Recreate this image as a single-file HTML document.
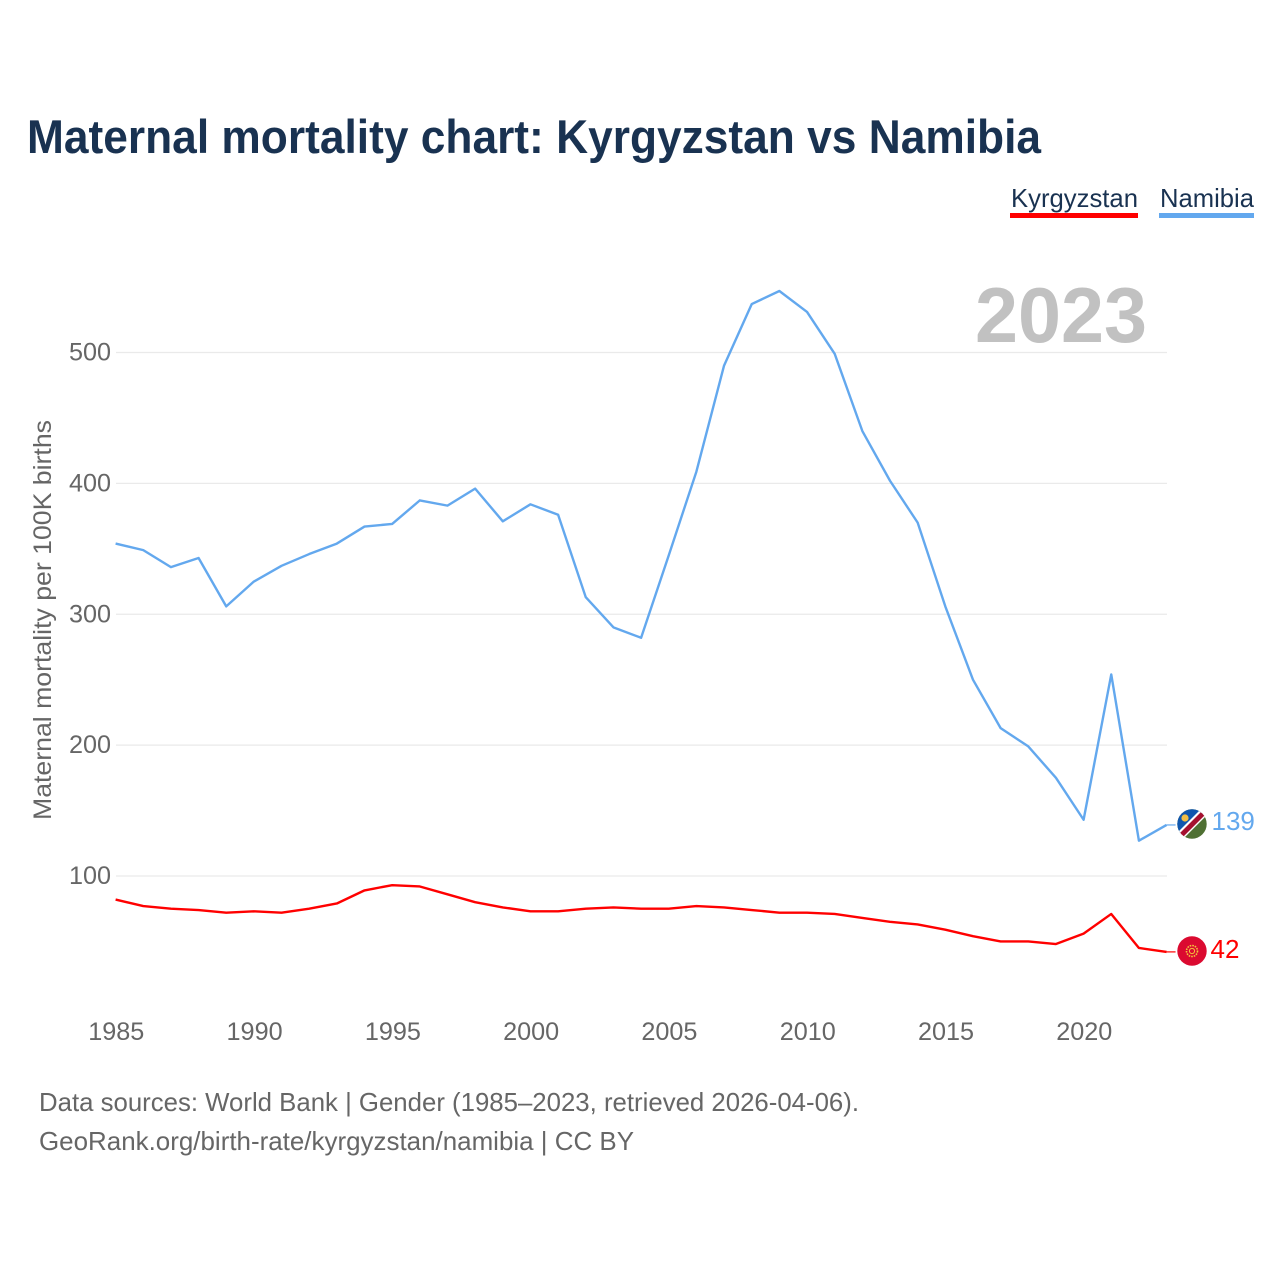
<!DOCTYPE html>
<html lang="en">
<head>
<meta charset="utf-8">
<title>Maternal mortality chart: Kyrgyzstan vs Namibia</title>
<style>
html,body{margin:0;padding:0;background:#fff;width:1280px;height:1280px;overflow:hidden}
svg{display:block}
text{font-family:"Liberation Sans",sans-serif}
</style>
</head>
<body>
<svg id="chart" xmlns="http://www.w3.org/2000/svg" width="1280" height="1280" viewBox="0 0 1280 1280">
  <text x="27" y="153" font-size="47.5" font-weight="700" fill="#193251" textLength="1014" lengthAdjust="spacingAndGlyphs">Maternal mortality chart: Kyrgyzstan vs Namibia</text>

  <g>
    <text x="1011" y="207" font-size="26" fill="#193251" textLength="127" lengthAdjust="spacingAndGlyphs">Kyrgyzstan</text>
    <rect x="1010" y="213" width="128" height="5" fill="#ff0000"/>
  </g>
  <g>
    <text x="1160" y="207" font-size="26" fill="#193251" textLength="94" lengthAdjust="spacingAndGlyphs">Namibia</text>
    <rect x="1159" y="213" width="95" height="5" fill="#63a8ee"/>
  </g>

  <g id="grid"></g>
  <g id="yticks"></g>
  <g id="xticks"></g>

  <text transform="translate(51,620) rotate(-90)" text-anchor="middle" font-size="25" fill="#666666" textLength="400" lengthAdjust="spacingAndGlyphs">Maternal mortality per 100K births</text>

  <text id="year-watermark" x="975" y="342" font-size="78" font-weight="700" fill="#c1c1c1" textLength="172" lengthAdjust="spacingAndGlyphs">2023</text>

  <g id="series"></g>

  <defs>
    <clipPath id="clip-nam"><circle cx="1192" cy="824" r="14.7"/></clipPath>
  </defs>

  <g clip-path="url(#clip-nam)">
    <rect x="1177" y="809" width="30" height="30" fill="#4f7033"/>
    <polygon points="1177,809 1207,809 1177,839" fill="#0f56ae"/>
    <polygon points="1177,833 1201,809 1207,809 1207,815 1183,839 1177,839" fill="#ffffff"/>
    <polygon points="1178,835 1203,810 1206,814 1181,839" fill="#a5102e"/>
    <circle cx="1185" cy="818" r="3.6" fill="#f0bd45"/>
  </g>
  <g>
    <circle cx="1192" cy="951" r="14.7" fill="#db0a30"/>
    <circle cx="1192" cy="951" r="5.5" fill="none" stroke="#f4c23c" stroke-width="1.6" stroke-dasharray="1.6 1"/>
    <circle cx="1192" cy="951" r="2.6" fill="none" stroke="#f4c23c" stroke-width="1"/>
  </g>

  <g id="end-labels"></g>

  <text x="39" y="1111" font-size="26" fill="#666666" textLength="820" lengthAdjust="spacingAndGlyphs">Data sources: World Bank | Gender (1985–2023, retrieved 2026-04-06).</text>
  <text x="39" y="1150" font-size="26" fill="#666666" textLength="595" lengthAdjust="spacingAndGlyphs">GeoRank.org/birth-rate/kyrgyzstan/namibia | CC BY</text>
</svg>
<script>
const years = [1985,1986,1987,1988,1989,1990,1991,1992,1993,1994,1995,1996,1997,1998,1999,2000,2001,2002,2003,2004,2005,2006,2007,2008,2009,2010,2011,2012,2013,2014,2015,2016,2017,2018,2019,2020,2021,2022,2023];
const namibia = [354,349,336,343,306,325,337,346,354,367,369,387,383,396,371,384,376,313,290,282,345,409,490,537,547,531,499,440,402,370,306,250,213,199,175,143,254,127,139];
const kyrgyzstan = [82,77,75,74,72,73,72,75,79,89,93,92,86,80,76,73,73,75,76,75,75,77,76,74,72,72,71,68,65,63,59,54,50,50,48,56,71,45,42];
const yTickValues = [100,200,300,400,500];
const xTickValues = [1985,1990,1995,2000,2005,2010,2015,2020];

const NS = 'http://www.w3.org/2000/svg';
function xScale(year) { return 115.6 + (year - 1985) * (968 / 35); }
function yScale(value) { return 876 - (value - 100) * (523.5 / 400); }

function make(tag, attrs, parent, content) {
  const el = document.createElementNS(NS, tag);
  Object.keys(attrs).forEach(function (k) { el.setAttribute(k, attrs[k]); });
  if (content !== undefined) el.textContent = content;
  parent.appendChild(el);
  return el;
}

const grid = document.getElementById('grid');
const yticks = document.getElementById('yticks');
const xticks = document.getElementById('xticks');
const seriesGroup = document.getElementById('series');
const endLabels = document.getElementById('end-labels');

yTickValues.forEach(function (v) {
  const line = make('line', {x1: 116, x2: 1167, y1: yScale(v), y2: yScale(v), stroke: '#eaeaea', 'stroke-width': 1.3}, grid);
  
  
  const label = make('text', {x: 111, y: yScale(v) + 8, 'text-anchor': 'end', 'font-size': 25.2, fill: '#666666'}, yticks, String(v));
  
  
});

xTickValues.forEach(function (v) {
  const label = make('text', {x: xScale(v) + 0.7, y: 1040, 'text-anchor': 'middle', 'font-size': 25.2, fill: '#666666'}, xticks, String(v));
  
  
});

function drawSeries(values, color, name, labelX, labelDy) {
  const pts = values.map(function (v, i) { return xScale(years[i]) + ',' + yScale(v); });
  const last = values[values.length - 1];
  const line = make('polyline', {points: pts.join(' '), fill: 'none', stroke: color, 'stroke-width': 2.4, 'stroke-linejoin': 'round'}, seriesGroup);
  
  
  const lastX = xScale(years[years.length - 1]);
  const conn = make('line', {x1: lastX, x2: lastX + 9, y1: yScale(last), y2: yScale(last), stroke: color, 'stroke-width': 1.2}, seriesGroup);
  
  
  const label = make('text', {x: labelX, y: yScale(last) + labelDy, 'font-size': 26, fill: color}, endLabels, String(last));
  
  
}

drawSeries(namibia, '#63a8ee', 'namibia', 1211.5, 5);
drawSeries(kyrgyzstan, '#ff0000', 'kyrgyzstan', 1210.5, 6);
</script>
</body>
</html>
